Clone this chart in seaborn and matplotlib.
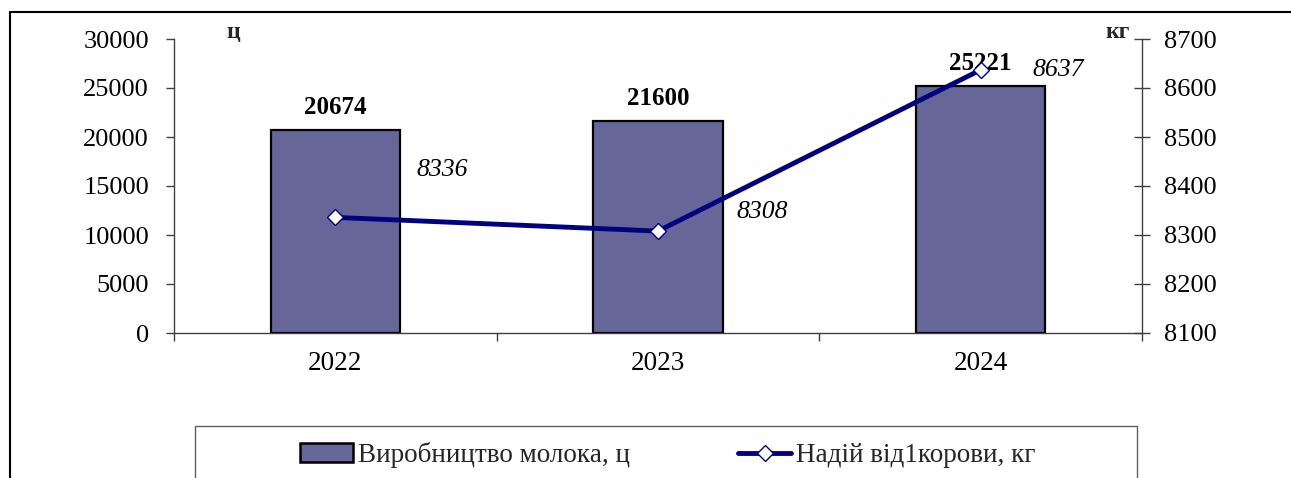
import matplotlib
matplotlib.use("Agg")
import matplotlib.pyplot as plt
from matplotlib.lines import Line2D
from matplotlib.patches import Patch, Rectangle
import seaborn as sns
import pandas as pd

# ---- data ----
years = ["2022", "2023", "2024"]
milk_production = [20674, 21600, 25221]      # ц
yield_per_cow = [8336, 8308, 8637]           # кг
bar_label = "Виробництво молока, ц"
line_label = "Надій від1корови, кг"

df = pd.DataFrame({"year": years, "milk": milk_production, "yield": yield_per_cow})

sns.set_theme(style="white")
plt.rcParams["font.family"] = ["Liberation Serif", "DejaVu Serif"]

W, H = 1291, 478
fig = plt.figure(figsize=(W / 100, H / 100), dpi=100)
ax = fig.add_axes([174 / W, 1 - 333 / H, (1142 - 174) / W, (333 - 39) / H])

bar_color = "#666699"
line_color = "#000080"
axis_color = "#404040"

sns.barplot(data=df, x="year", y="milk", ax=ax, color=bar_color, width=0.4,
            edgecolor="black", linewidth=1.6, saturation=1)
ax.set_ylim(0, 30000)
ax.set_xlim(-0.5, len(years) - 0.5)
ax.set_yticks(range(0, 30001, 5000))
ax.set_xlabel("")
ax.set_ylabel("")

for p, v in zip(ax.patches, milk_production):
    ax.annotate(f"{v}", (p.get_x() + p.get_width() / 2, p.get_height()),
                xytext=(0, 8), textcoords="offset points", ha="center", va="bottom",
                fontsize=18, fontweight="bold", color="black")

ax2 = ax.twinx()
sns.lineplot(x=list(range(len(years))), y=yield_per_cow, ax=ax2, color=line_color,
             linewidth=3.5, marker="D", markersize=8, markerfacecolor="white",
             markeredgecolor=line_color, markeredgewidth=1)
ax2.set_ylim(8100, 8700)
ax2.set_yticks(range(8100, 8701, 100))
ax2.set_xlim(-0.5, len(years) - 0.5)

label_offsets = [(77, 34), (75, 14), (56, 0)]
for i, (v, off) in enumerate(zip(yield_per_cow, label_offsets)):
    ax2.annotate(f"{v}", (i, v), xytext=off, textcoords="offset points",
                 ha="center", va="center", fontsize=18.5, fontstyle="italic", color="black")

# spines & ticks
for a in (ax, ax2):
    for s in a.spines.values():
        s.set_visible(False)
ax.spines["left"].set_visible(True)
ax.spines["bottom"].set_visible(True)
ax2.spines["right"].set_visible(True)
for s in (ax.spines["left"], ax.spines["bottom"], ax2.spines["right"]):
    s.set_color(axis_color)
    s.set_linewidth(1.0)

ax.set_xticks(range(len(years)))
ax.set_xticklabels(years)
ax.set_xticks([-0.5, 0.5, 1.5, 2.5], minor=True)
ax.tick_params(axis="x", which="major", length=0, pad=13, labelsize=19.5, colors="black")
ax.tick_params(axis="x", which="minor", bottom=True, length=6, width=1, direction="out", color=axis_color)
ax.tick_params(axis="y", which="major", left=True, length=6, width=1, direction="out",
               pad=12, labelsize=19, color=axis_color, labelcolor="black")
ax2.tick_params(axis="y", which="major", right=True, length=11, width=1, direction="inout",
                pad=10, labelsize=19, color=axis_color, labelcolor="black")
ax2.set_ylabel("")

ax.grid(False)
ax2.grid(False)

# unit labels
fig.text(233 / W, 1 - 33 / H, "ц", ha="center", va="center", fontsize=17, fontweight="bold")
fig.text(1118 / W, 1 - 32 / H, "кг", ha="center", va="center", fontsize=17, fontweight="bold")

# outer border
fig.add_artist(Line2D([10 / W, 10 / W], [0, 1 - 12 / H], transform=fig.transFigure,
                      color="black", linewidth=1.5))
fig.add_artist(Line2D([10 / W, 1], [1 - 12 / H, 1 - 12 / H], transform=fig.transFigure,
                      color="black", linewidth=1.5))

# legend box
fig.add_artist(Rectangle((195 / W, -0.1), (1137 - 195) / W, (1 - 426 / H) + 0.1,
                         transform=fig.transFigure, facecolor="none",
                         edgecolor="#606060", linewidth=1))
handles = [Patch(facecolor=bar_color, edgecolor="black", linewidth=1.8, label=bar_label),
           Line2D([0], [0], color=line_color, linewidth=3.5, marker="D", markersize=8,
                  markerfacecolor="white", markeredgecolor=line_color,
                  markeredgewidth=1, label=line_label)]
fig.legend(handles=handles, loc="center", bbox_to_anchor=(668 / W, 1 - 455 / H),
           ncol=2, frameon=False, fontsize=19.5, handlelength=1.95, handletextpad=0.18,
           columnspacing=4.0)

fig.savefig("out.png", dpi=100)
